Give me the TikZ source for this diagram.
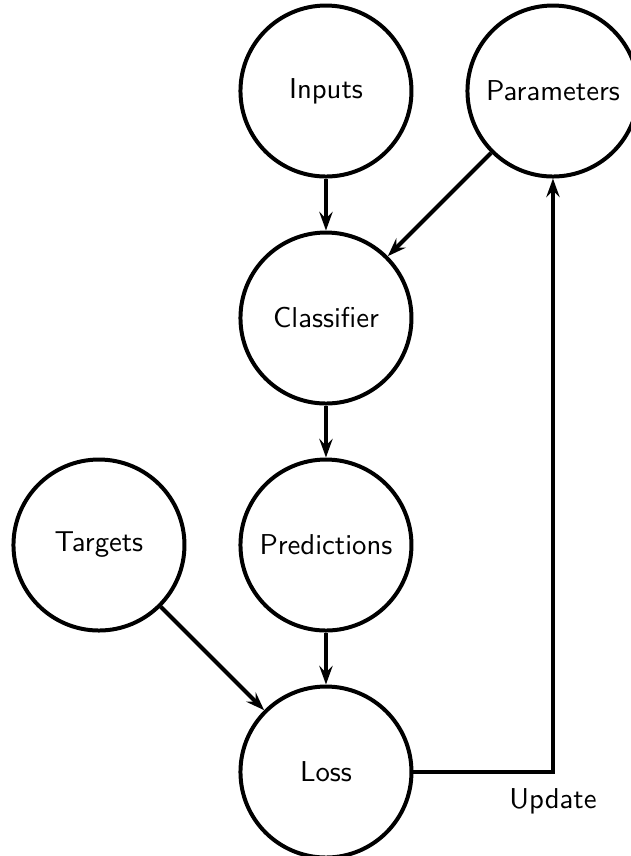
\documentclass[tikz,border=0pt]{standalone}
\usetikzlibrary{arrows.meta}
\begin{document}
\begin{tikzpicture}[
  font=\sffamily\fontsize{10.8pt}{13pt}\selectfont,
  unit/.style={circle, draw, line width=1.5pt, minimum size=2.26cm, inner sep=0pt},
  flow/.style={line width=1.5pt, -{Stealth[length=7pt,width=5pt,inset=2.5pt]}}
]
\useasboundingbox (-4.308,1.203) rectangle (4.031,-10.11);

\node[unit] (inputs)  at (0,0)   {Inputs};
\node[unit] (params)  at (3,0)   {Parameters};
\node[unit] (clf)     at (0,-3)  {Classifier};
\node[unit] (pred)    at (0,-6)  {Predictions};
\node[unit] (targets) at (-3,-6) {Targets};
\node[unit] (loss)    at (0,-9)  {Loss};

\draw[flow] (inputs) -- (clf);
\draw[flow] (params) -- (clf);
\draw[flow] (clf) -- (pred);
\draw[flow] (pred) -- (loss);
\draw[flow] (targets) -- (loss);
\draw[flow] (loss.east) -| node[pos=0.5, below=2pt] (upd) {Update} (params.south);
\end{tikzpicture}
\end{document}
